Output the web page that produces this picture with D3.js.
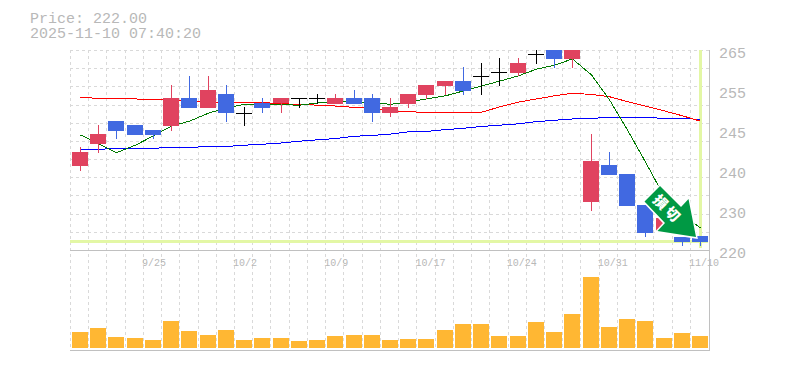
<!DOCTYPE html>
<html><head><meta charset="utf-8">
<script src="https://cdn.jsdelivr.net/npm/d3@7"></script>
<style>html,body{margin:0;padding:0;background:#fff}svg{display:block}</style></head>
<body><div id="c"></div>
<script>
const titleLines = ["Price: 222.00", "2025-11-10 07:40:20"];
const dates = ["9/18","9/19","9/22","9/24","9/25","9/26","9/29","9/30","10/1","10/2","10/3","10/6","10/7","10/8","10/9","10/10","10/14","10/15","10/16","10/17","10/20","10/21","10/22","10/23","10/24","10/27","10/28","10/29","10/30","10/31","11/4","11/5","11/6","11/7","11/10"];
const dateTicks = ["9/25","10/2","10/9","10/17","10/24","10/31","11/10"];
const open = [239.0,244.0,249.15,248.2,247.1,248.0,254.3,252.1,255.2,250.9,253.2,253.2,254.3,254.3,253.0,254.3,254.3,250.9,253.0,255.0,257.0,258.1,259.3,260.2,260.0,264.2,265.5,263.1,230.9,239.2,237.2,230.2,224.2,223.0,223.3];
const close = [242.15,246.2,246.9,246.0,246.0,254.3,252.1,256.1,250.9,250.9,252.1,254.3,254.3,254.3,254.3,253.0,250.9,252.3,255.2,257.2,258.1,255.9,259.3,260.2,262.2,264.2,263.1,265.5,240.1,237.0,230.0,223.9,227.3,221.9,221.9];
const high = [243.3,248.2,249.15,248.2,247.1,257.2,259.3,259.3,257.2,252.3,254.3,254.3,254.3,255.2,255.2,256.1,255.2,254.3,255.2,257.2,258.1,261.3,262.2,263.3,263.3,265.5,265.5,265.5,246.2,242.2,237.2,230.2,227.3,223.0,223.3];
const low = [237.9,241.9,245.1,246.0,245.1,246.9,252.1,252.1,248.9,248.0,250.9,250.9,252.1,253.0,253.0,253.0,248.9,250.0,252.1,254.1,255.0,255.0,255.0,257.0,259.3,262.0,261.1,261.1,228.9,237.0,230.0,223.0,224.2,221.0,221.0];
const maShort = [246.0,244.0,242.0,243.7,245.8,248.0,249.1,250.9,252.1,252.9,252.8,252.8,252.7,253.2,253.6,253.4,253.2,252.9,253.4,254.1,254.8,255.9,257.0,258.1,259.3,260.8,261.7,263.1,259.5,253.9,247.1,239.9,232.0,228.0,225.1];
const maMid = [254.5,254.2,254.2,254.1,253.9,253.9,253.6,253.4,253.3,253.3,253.3,253.0,252.9,252.7,252.5,252.2,252.0,251.4,251.2,251.1,251.1,251.1,251.1,252.3,253.4,254.1,254.8,255.4,255.1,254.6,253.5,252.5,251.4,250.3,249.1];
const maLong = [242.8,242.8,242.9,243.0,243.0,243.2,243.2,243.4,243.4,243.7,243.9,244.2,244.6,244.9,245.2,245.7,245.9,246.2,246.7,246.8,247.2,247.5,247.9,248.2,248.5,249.0,249.3,249.6,249.7,250.0,250.0,250.0,249.7,249.7,249.5];
const volume = [16,20,11,10,8,27,17,13,18,8,10,10,7,8,12,13,13,8,9,9,18,24,24,12,12,26,16,34,71,21,29,27,10,15,12];
const priceTicks = [265,256,247,238,229,220];
const priceTickLabels = ["265","255","245","240","230","220"];
const lastPrice = 222;
const arrowText = "損切";

const W=785,H=370,L=70,R=709,T=50,PB=250,VB=350;
const svg=d3.select("#c").append("svg").attr("width",W).attr("height",H);
const x=d3.scaleBand().domain(dates).range([70.88,709.1]);
const cx=d=>Math.round(x(d)+x.bandwidth()/2);
const y=d3.scaleLinear().domain([220,265]).range([PB+.5,T+.5]);
const v=d3.scaleLinear().domain([0,100]).range([348,248]);
const GRID="#d9d9d9",AX="#c0c0c0",TXT="#b8b8b8",BAND="#e3f7a5",UP="#e0435f",DOWN="#4169e1",VOL="#ffb733";
const crisp=s=>s.attr("shape-rendering","crispEdges");

svg.append("defs").append("clipPath").attr("id","pane").append("rect").attr("x",L).attr("y",T).attr("width",R-L+1).attr("height",PB-T);

// grid
const gv=crisp(svg.append("g").attr("stroke",GRID).attr("stroke-dasharray","3,3"));
gv.selectAll("line").data(d3.range(0,35)).join("line")
  .attr("x1",i=>Math.round(x(dates[i]))-.5).attr("x2",i=>Math.round(x(dates[i]))-.5).attr("y1",T).attr("y2",VB);
const gh=crisp(svg.append("g").attr("stroke",GRID).attr("stroke-dasharray","3,3"));
gh.selectAll("line").data(d3.range(0,11)).join("line")
  .attr("x1",L).attr("x2",R)
  .attr("y1",i=>Math.round(T+i*200/11)+.5).attr("y2",i=>Math.round(T+i*200/11)+.5);

// reference bands
crisp(svg.append("rect")).attr("x",L).attr("width",R-L-1).attr("y",Math.round(y(lastPrice))-2).attr("height",3).attr("fill",BAND);
crisp(svg.append("rect")).attr("x",cx(dates[34])-1).attr("width",3).attr("y",T).attr("height",198).attr("fill",BAND);

// axes frame
const frame=crisp(svg.append("g").attr("stroke",AX).attr("fill","none"));
frame.append("line").attr("x1",L).attr("x2",R+1).attr("y1",PB+.5).attr("y2",PB+.5);
frame.append("line").attr("x1",L).attr("x2",R+1).attr("y1",VB+.5).attr("y2",VB+.5);
frame.append("line").attr("x1",R+.5).attr("x2",R+.5).attr("y1",T).attr("y2",VB);

// moving averages
const pane=svg.append("g").attr("clip-path","url(#pane)");
const line=d3.line().x((d,i)=>cx(dates[i])+.5).y(d=>y(d));
[[maLong,"#0000ff"],[maMid,"#ff0000"],[maShort,"#007a00"]].forEach(([s,c])=>{
  crisp(pane.append("path")).datum(s).attr("d",line).attr("fill","none").attr("stroke",c).attr("stroke-width",1);
});

// candles
const col=i=>close[i]>open[i]?UP:close[i]<open[i]?DOWN:"#000";
const g=crisp(pane.append("g"));
const idx=d3.range(dates.length);
g.selectAll("line.w").data(idx).join("line").attr("class","w")
  .attr("x1",i=>cx(dates[i])+.5).attr("x2",i=>cx(dates[i])+.5)
  .attr("y1",i=>y(high[i])).attr("y2",i=>y(low[i])).attr("stroke",col);
g.selectAll("rect").data(idx).join("rect")
  .attr("x",i=>cx(dates[i])-8).attr("width",16)
  .attr("y",i=>Math.round(y(Math.max(open[i],close[i]))))
  .attr("height",i=>Math.max(1,Math.round(Math.abs(y(open[i])-y(close[i])))))
  .attr("fill",col);

// volume
crisp(svg.append("g")).selectAll("rect").data(idx).join("rect")
  .attr("x",i=>cx(dates[i])-8).attr("width",16)
  .attr("y",i=>v(volume[i])).attr("height",i=>v(0)-v(volume[i])).attr("fill",VOL);

// axes labels
const MONO="'Liberation Mono','DejaVu Sans Mono',monospace";
const ay=svg.append("g").attr("transform",`translate(${R+10},0)`)
  .call(d3.axisRight(y).tickValues(priceTicks).tickSize(0).tickPadding(0).tickFormat((d,i)=>priceTickLabels[i]));
ay.select(".domain").remove();
ay.selectAll("text").attr("font-family",MONO).attr("font-size",15).attr("fill",TXT).attr("dy","0.48em");
const ax=svg.append("g").attr("transform",`translate(0,${PB})`)
  .call(d3.axisBottom(x).tickValues(dateTicks).tickSize(0).tickPadding(0));
ax.select(".domain").remove();
ax.selectAll("text").attr("font-family",MONO).attr("font-size",10).attr("fill",TXT)
  .attr("text-anchor","start").attr("dx",-11).attr("y",9);

// title
svg.append("g").selectAll("text").data(titleLines).join("text")
  .attr("x",30).attr("y",(d,i)=>23+i*15).attr("font-family",MONO).attr("font-size",15).attr("fill",TXT).text(d=>d);

// sell arrow, anchored at last candle
const tipX=cx(dates[34])-4, tipY=y(lastPrice)-4.5;
const arrow=svg.append("g").attr("transform",`translate(${tipX},${tipY})`);
arrow.append("polygon")
  .attr("points",[[-36,-51],[-15,-30],[-7.5,-38],[0,0],[-38.5,-6],[-31,-14],[-51.5,-35.5]].map(p=>p.join(",")).join(" "))
  .attr("fill","#009944").attr("stroke","#fff").attr("stroke-width",3).attr("paint-order","stroke");
arrow.append("text").attr("transform","translate(-28.5,-28) rotate(45)")
  .attr("text-anchor","middle").attr("dy","0.36em").attr("letter-spacing",3)
  .attr("font-family","'Noto Sans CJK JP'").attr("font-weight",900).attr("font-size",14).attr("fill","#fff").text(arrowText);
</script></body></html>
